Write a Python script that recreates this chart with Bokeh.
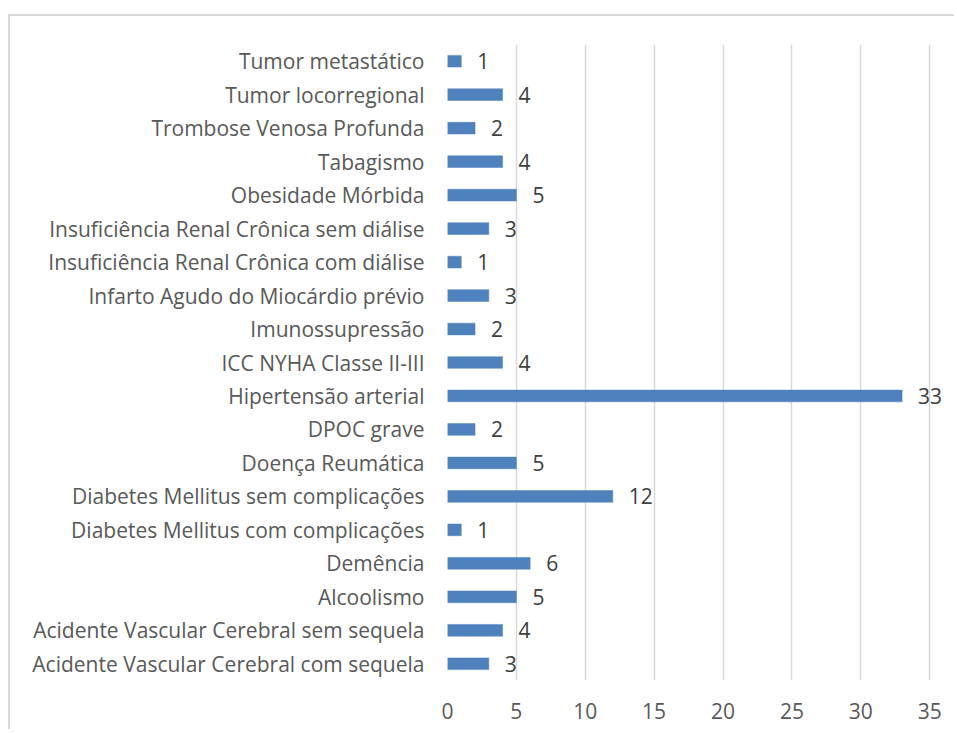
from bokeh.plotting import figure
from bokeh.models import FactorRange, Range1d, FixedTicker, ColumnDataSource
from bokeh.embed import file_html
from bokeh.resources import INLINE
from bokeh.core.properties import value

categories = [
    "Acidente Vascular Cerebral com sequela",
    "Acidente Vascular Cerebral sem sequela",
    "Alcoolismo",
    "Demência",
    "Diabetes Mellitus com complicações",
    "Diabetes Mellitus sem complicações",
    "Doença Reumática",
    "DPOC grave",
    "Hipertensão arterial",
    "ICC NYHA Classe II-III",
    "Imunossupressão",
    "Infarto Agudo do Miocárdio prévio",
    "Insuficiência Renal Crônica com diálise",
    "Insuficiência Renal Crônica sem diálise",
    "Obesidade Mórbida",
    "Tabagismo",
    "Trombose Venosa Profunda",
    "Tumor locorregional",
    "Tumor metastático",
]
counts = [3, 4, 5, 6, 1, 12, 5, 2, 33, 4, 2, 3, 1, 3, 5, 4, 2, 4, 1]
x_ticks = [0, 5, 10, 15, 20, 25, 30, 35]

FONT = "Open Sans"
FS = "21px"

src = ColumnDataSource(dict(cat=categories, val=counts, lab=[str(v) for v in counts]))

p = figure(
    width=946, height=715,
    y_range=FactorRange(*categories, range_padding=0),
    x_range=Range1d(0, 36.95),
    output_backend="svg", toolbar_location=None,
    min_border_left=437, min_border_right=0,
    min_border_top=28, min_border_bottom=51,
)
p.margin = (14, 0, 0, 8)
p.styles = {"border-top": "2px solid #d9d9d9", "border-left": "2px solid #d9d9d9"}
p.outline_line_color = None
p.background_fill_color = "white"
p.border_fill_color = "white"

p.hbar(y="cat", right="val", left=0, height=0.35, source=src,
       fill_color="#4F81BD", line_color="#4F81BD", line_width=0.5)
p.text(x="val", y="cat", text="lab", source=src, x_offset=16,
       text_align="left", text_baseline="middle",
       text_font=value(FONT), text_font_size=FS, text_color="#404040")

p.xaxis.ticker = FixedTicker(ticks=x_ticks)
p.xgrid.ticker = FixedTicker(ticks=x_ticks)
p.xgrid.grid_line_color = "#d9d9d9"
p.xgrid.grid_line_width = 1.5
p.ygrid.grid_line_color = None

for ax in (p.xaxis[0], p.yaxis[0]):
    ax.axis_line_color = None
    ax.major_tick_line_color = None
    ax.minor_tick_line_color = None
    ax.major_label_text_font = FONT
    ax.major_label_text_font_size = FS
    ax.major_label_text_color = "#595959"
p.yaxis.major_label_standoff = 17
p.xaxis.major_label_standoff = 16

open("out.html", "w").write(file_html(p, INLINE))
